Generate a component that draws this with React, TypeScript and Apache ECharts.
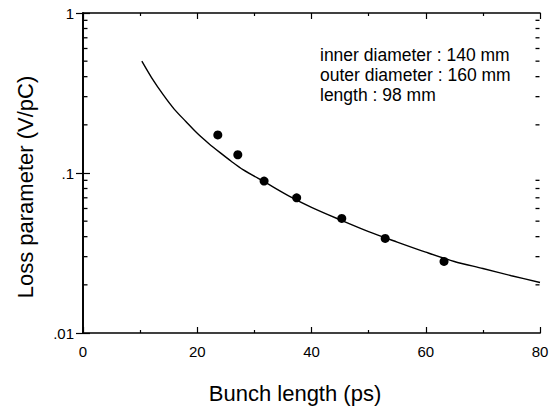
import React, { useEffect, useRef } from "react";
import * as echarts from "echarts";

// Measured loss parameter (V/pC) vs bunch length (ps)
const measuredX = [23.6, 27.1, 31.7, 37.4, 45.3, 52.9, 63.2];
const measuredY = [0.173, 0.13, 0.089, 0.07, 0.052, 0.039, 0.028];

// Calculated curve
const curveX = [10.3, 12, 14, 16, 18, 20, 22, 24, 26, 28, 32, 36, 40, 45, 50, 55, 60, 65, 70, 75, 80];
const curveY = [0.5, 0.395, 0.31, 0.25, 0.21, 0.177, 0.153, 0.134, 0.118, 0.105, 0.087, 0.072, 0.061, 0.051, 0.043, 0.037, 0.032, 0.028, 0.0253, 0.0228, 0.0207];

// Axis ranges and ticks
const xMin = 0;
const xMax = 80;
const xInterval = 20;
const yMin = 0.01;
const yMax = 1;
const yMinorTicks = [0.02, 0.03, 0.04, 0.05, 0.06, 0.07, 0.08, 0.09, 0.2, 0.3, 0.4, 0.5, 0.6, 0.7, 0.8, 0.9];

const xTitle = "Bunch length (ps)";
const yTitle = "Loss parameter (V/pC)";
const annotationLines = ["inner diameter : 140 mm", "outer diameter : 160 mm", "length : 98 mm"];

const FONT = "'Liberation Sans', Arial, Helvetica, sans-serif";
const INK = "#000";

export default function App() {
  const ref = useRef<HTMLDivElement>(null);

  useEffect(() => {
    if (!ref.current) return;
    const chart = echarts.init(ref.current, undefined, { renderer: "svg" });

    const axisLine = { show: true, lineStyle: { color: INK, width: 1.7 } };

    const leftTicks = yMinorTicks.map((v) => [xMin, v]);
    const rightTicks = yMinorTicks.map((v) => [xMax, v]);

    chart.setOption({
      animation: false,
      backgroundColor: "#fff",
      grid: { left: 83, right: 12, top: 13, bottom: 73, containLabel: false },
      xAxis: [
        {
          type: "value",
          min: xMin,
          max: xMax,
          interval: xInterval,
          position: "bottom",
          axisLine,
          axisTick: { show: true, inside: true, length: 6, lineStyle: { color: INK, width: 1.2 } },
          minorTick: { show: true, splitNumber: 2, length: 3, lineStyle: { color: INK, width: 1.2 } },
          axisLabel: { color: INK, fontSize: 15, fontFamily: FONT, margin: 11 },
          splitLine: { show: false },
        },
        {
          type: "value",
          min: xMin,
          max: xMax,
          interval: xInterval,
          position: "top",
          axisLine,
          axisTick: { show: true, inside: true, length: 6, lineStyle: { color: INK, width: 1.2 } },
          minorTick: { show: true, splitNumber: 2, length: 3, lineStyle: { color: INK, width: 1.2 } },
          axisLabel: { show: false },
          splitLine: { show: false },
        },
      ],
      yAxis: [
        {
          type: "log",
          logBase: 10,
          min: yMin,
          max: yMax,
          position: "left",
          axisLine,
          axisTick: { show: true, inside: true, length: 7, lineStyle: { color: INK, width: 1.2 } },
          axisLabel: {
            color: INK,
            fontSize: 15,
            fontFamily: FONT,
            margin: 9,
            formatter: (v: number) => String(v).replace(/^0\./, "."),
          },
          splitLine: { show: false },
        },
        {
          type: "log",
          logBase: 10,
          min: yMin,
          max: yMax,
          position: "right",
          axisLine,
          axisTick: { show: true, inside: true, length: 7, lineStyle: { color: INK, width: 1.2 } },
          axisLabel: { show: false },
          splitLine: { show: false },
        },
      ],
      series: [
        {
          type: "line",
          data: curveX.map((x, i) => [x, curveY[i]]),
          showSymbol: false,
          smooth: 0.3,
          lineStyle: { color: INK, width: 1.4 },
          z: 2,
        },
        {
          type: "scatter",
          data: measuredX.map((x, i) => [x, measuredY[i]]),
          symbol: "circle",
          symbolSize: 9,
          itemStyle: { color: "#000", opacity: 1 },
          z: 3,
        },
        {
          type: "scatter",
          data: leftTicks,
          symbol: "rect",
          symbolSize: [4, 1.3],
          symbolOffset: [2.5, 0],
          itemStyle: { color: INK, opacity: 1 },
          clip: false,
          silent: true,
        },
        {
          type: "scatter",
          data: rightTicks,
          symbol: "rect",
          symbolSize: [4, 1.3],
          symbolOffset: [-2.5, 0],
          itemStyle: { color: INK, opacity: 1 },
          clip: false,
          silent: true,
        },
      ],
      graphic: [
        {
          type: "text",
          x: 295,
          y: 393,
          style: {
            text: xTitle,
            fill: INK,
            font: `22px ${FONT}`,
            textAlign: "center",
            textVerticalAlign: "middle",
          },
        },
        {
          type: "text",
          x: 25,
          y: 187,
          rotation: Math.PI / 2,
          style: {
            text: yTitle,
            fill: INK,
            font: `22px ${FONT}`,
            textAlign: "center",
            textVerticalAlign: "middle",
          },
        },
        ...annotationLines.map((line, i) => ({
          type: "text",
          x: 320,
          y: 55 + i * 20,
          style: {
            text: line,
            fill: INK,
            font: `17.5px ${FONT}`,
            textAlign: "left",
            textVerticalAlign: "middle",
          },
        })),
      ],
    });

    return () => chart.dispose();
  }, []);

  return (
    <div
      ref={ref}
      style={{ position: "fixed", left: 0, top: 0, width: 552, height: 406, background: "#fff" }}
    />
  );
}
